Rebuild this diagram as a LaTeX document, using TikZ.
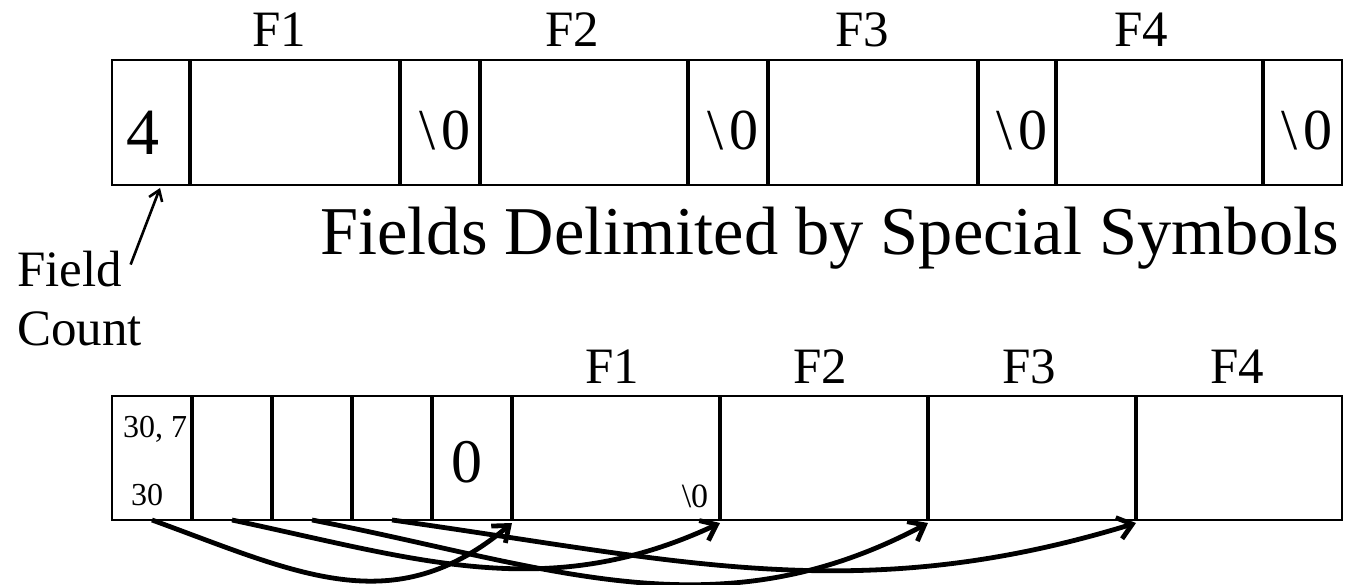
\documentclass[tikz,border=0pt]{standalone}
\usepackage{fontspec}
\setmainfont{Liberation Serif}
\usetikzlibrary{arrows.meta,calc}
\tikzset{
  cell/.style={draw, line width=1.3pt, inner sep=0pt, outer sep=0pt, anchor=south west},
  divider/.style={line width=2.2pt},
  link/.style={line width=2.4pt, -{Straight Barb[length=7pt,width=11pt]}},
  lbl/.style={inner sep=0pt, anchor=base, font=\fontsize{25.5}{28}\selectfont},
}

\begin{document}
\begin{tikzpicture}[x=0.5pt,y=0.5pt]
\useasboundingbox (0,0) rectangle (1353,584);
% record with delimiters
\foreach \a/\b [count=\i] in {112/190,190/400,400/480,480/688,688/768,768/978,978/1056,1056/1263,1263/1342}
  \node[cell, minimum width={(\b-\a)*0.5pt}, minimum height=62.5pt] (t\i) at (\a,399) {};
\foreach \i in {1,...,8}
  \draw[divider] (t\i.north east) -- (t\i.south east);
\node[lbl, font=\fontsize{33}{36}\selectfont] (cnt) at (143,429) {4};
\foreach \x [count=\i] in {445,733,1022,1307}
  \node[lbl, font=\fontsize{29}{31}\selectfont] (nul\i) at (\x,434) {\textbackslash\kern2.5pt0};
\foreach \x/\t in {279/F1,572/F2,862/F3,1141/F4}
  \node[lbl] (top\t) at (\x,537) {\t};
\node[lbl, anchor=base west, font=\fontsize{34.2}{38}\selectfont] (title) at (320,329) {Fields Delimited by Special Symbols};
\node[lbl, anchor=base west] (field) at (17,297) {Field};
\node[lbl, anchor=base west] (count) at (17,239) {Count};
\draw[line width=1.3pt, -{Straight Barb[length=5pt,width=7pt]}] ($(field.east)+(8,5)$) -- ($(t1.south)+(9,-3)$);
% record with offsets
\foreach \a/\b [count=\i] in {112/192,192/272,272/352,352/432,432/512,512/720,720/928,928/1136,1136/1342}
  \node[cell, minimum width={(\b-\a)*0.5pt}, minimum height=62pt] (b\i) at (\a,64) {};
\foreach \i in {1,...,8}
  \draw[divider] (b\i.north east) -- (b\i.south east);
\node[lbl, font=\fontsize{16}{18}\selectfont] (len) at (155,147) {30, 7};
\node[lbl, font=\fontsize{16}{18}\selectfont] (off) at (147,79) {30};
\node[lbl, font=\fontsize{31}{34}\selectfont] (zero) at (467,102) {0};
\node[lbl, font=\fontsize{17}{19}\selectfont] (end) at (695,77) {\textbackslash0};
\foreach \x/\t in {612/F1,820/F2,1029/F3,1237/F4}
  \node[lbl] (bot\t) at (\x,201) {\t};
\draw[link] (b1.south) to[out=-20,in=220,looseness=1.1] ($(b6.south west)+(0,-3)$);
\draw[link] (b2.south) to[out=-12,in=205] ($(b7.south west)+(0,-3)$);
\draw[link] (b3.south) to[out=-11,in=208] ($(b8.south west)+(0,-3)$);
\draw[link] (b4.south) to[out=-8,in=197] ($(b9.south west)+(0,-3)$);
\end{tikzpicture}
\end{document}
